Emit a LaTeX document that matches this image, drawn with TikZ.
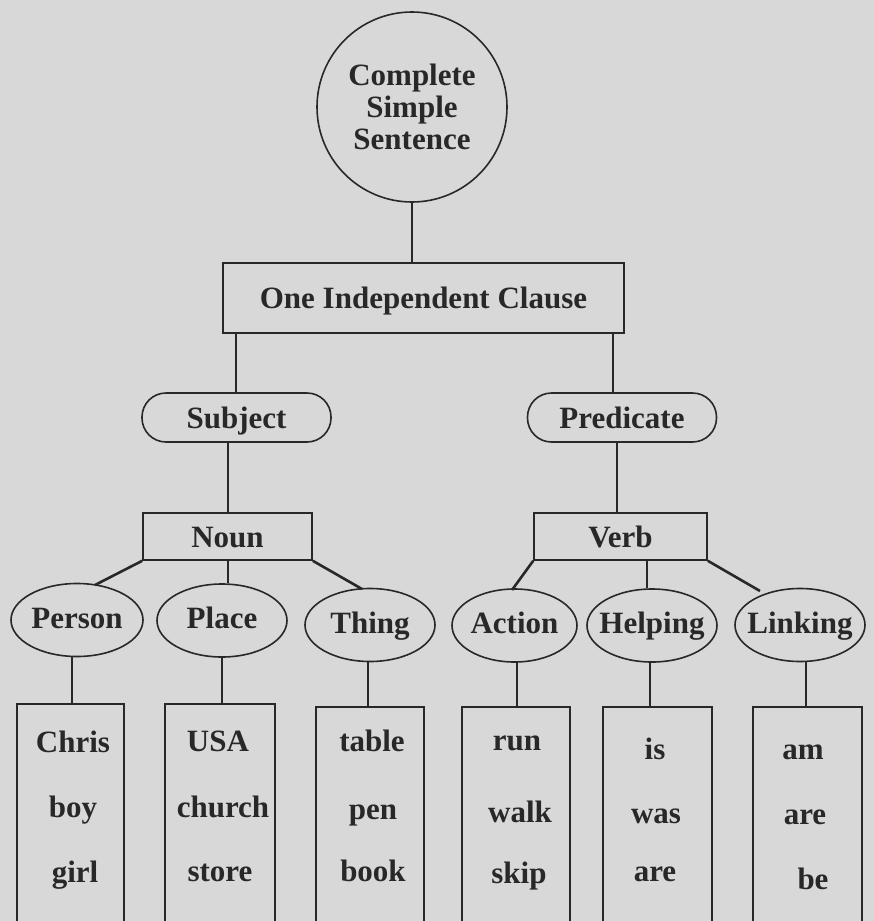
\documentclass[tikz,border=0pt]{standalone}
\usepackage{fontspec}
\setmainfont{Liberation Serif}
\usetikzlibrary{shapes.geometric}
\definecolor{bg}{RGB}{216,216,216}
\definecolor{ink}{RGB}{40,40,40}
\tikzset{
  lbl/.style={font=\fontsize{31}{33}\selectfont\bfseries, text=ink},
  shapeline/.style={draw=ink, line width=1.6pt},
  sqbox/.style={shapeline, rectangle, inner sep=0pt, lbl, text height=22pt, text depth=1pt},
  pill/.style={shapeline, rectangle, rounded corners=24pt, inner sep=0pt, minimum width=189pt, minimum height=49pt, lbl, text height=22pt, text depth=1pt},
  oval/.style={shapeline, ellipse, inner xsep=-16pt, inner ysep=-4pt, minimum height=73pt, lbl, text height=20pt, text depth=4pt},
  wordbox/.style={shapeline, rectangle, inner sep=0pt, minimum height=240pt, anchor=north},
  word/.style={lbl, inner sep=0pt, anchor=base},
  conn/.style={draw=ink, line width=1.7pt},
  slant/.style={draw=ink, line width=2.6pt}
}
\begin{document}
\begin{tikzpicture}[x=1pt,y=-1pt]
\useasboundingbox (0,0) rectangle (874,921);
\fill[bg] (0,0) rectangle (874,921);
\clip (0,0) rectangle (874,921);

% root
\node[shapeline, circle, minimum size=190pt, inner sep=0pt, lbl, align=center] (root) at (412,107)
  {Complete\\[-1pt]Simple\\[-1pt]Sentence};
\node[sqbox, minimum width=401pt, minimum height=70pt] (clause) at (423.5,298) {One Independent Clause};

\node[pill] (subj) at (236.5,417.5) {Subject};
\node[pill] (pred) at (622,417.5) {Predicate};

\node[sqbox, minimum width=169pt, minimum height=47pt] (noun) at (227.5,536.5) {Noun};
\node[sqbox, minimum width=173pt, minimum height=47pt] (verb) at (620.5,536.5) {Verb};

\node[oval, minimum width=132pt] (person) at (77,620) {Person};
\node[oval, minimum width=130pt] (place) at (222,620.5) {Place};
\node[oval, minimum width=130pt] (thing) at (370,625) {Thing};
\node[oval, minimum width=125pt] (action) at (514.5,625.5) {Action};
\node[oval, minimum width=130pt] (helping) at (652,625.5) {Helping};
\node[oval, minimum width=130pt] (linking) at (800,625) {Linking};

\node[wordbox, minimum width=107pt] (bperson) at (70.5,703) {};
\node[wordbox, minimum width=110pt] (bplace) at (220,703) {};
\node[wordbox, minimum width=108pt] (bthing) at (370,706) {};
\node[wordbox, minimum width=108pt] (baction) at (516,706) {};
\node[wordbox, minimum width=109pt] (bhelping) at (657.5,706) {};
\node[wordbox, minimum width=109pt] (blinking) at (807.5,706) {};

% words
\node[word] (w11) at (73,752) {Chris};
\node[word] (w12) at (73,817) {boy};
\node[word] (w13) at (75,882) {girl};
\node[word] (w21) at (218,751) {USA};
\node[word] (w22) at (223,817) {church};
\node[word] (w23) at (220,881) {store};
\node[word] (w31) at (372,751) {table};
\node[word] (w32) at (373,819) {pen};
\node[word] (w33) at (373,881) {book};
\node[word] (w41) at (517,750) {run};
\node[word] (w42) at (520,822) {walk};
\node[word] (w43) at (519,883) {skip};
\node[word] (w51) at (655,759) {is};
\node[word] (w52) at (656,823) {was};
\node[word] (w53) at (655,881) {are};
\node[word] (w61) at (803,759) {am};
\node[word] (w62) at (805,824) {are};
\node[word] (w63) at (813,889) {be};

% connectors
\draw[conn] (root.south) -- (root.south |- clause.north);
\draw[conn] ([xshift=-0.5pt]subj.north |- clause.south) -- ([xshift=-0.5pt]subj.north);
\draw[conn] ([xshift=-9pt]pred.north |- clause.south) -- ([xshift=-9pt]pred.north);
\draw[conn] ([xshift=0.5pt]noun.north |- subj.south) -- ([xshift=0.5pt]noun.north);
\draw[conn] ([xshift=-3.5pt]verb.north |- pred.south) -- ([xshift=-3.5pt]verb.north);

\coordinate (pa) at (95,585);
\coordinate (ta) at (362,589);
\coordinate (aa) at (512,590);
\coordinate (la) at (760,591);
\draw[slant] (noun.south west) -- (pa);
\draw[slant] (noun.south east) -- (ta);
\draw[conn] ([xshift=0.5pt]noun.south) -- ([xshift=0.5pt]noun.south |- place.north);
\draw[slant] (verb.south west) -- (aa);
\draw[conn] ([xshift=26.5pt]verb.south) -- ([xshift=26.5pt]verb.south |- helping.north);
\draw[slant] (verb.south east) -- (la);

\draw[conn] ([xshift=-5pt]person.south) -- ([xshift=-5pt]person.south |- bperson.north);
\draw[conn] (place.south) -- (place.south |- bplace.north);
\draw[conn] ([xshift=-2pt]thing.south) -- ([xshift=-2pt]thing.south |- bthing.north);
\draw[conn] ([xshift=2.5pt]action.south) -- ([xshift=2.5pt]action.south |- baction.north);
\draw[conn] ([xshift=-2pt]helping.south) -- ([xshift=-2pt]helping.south |- bhelping.north);
\draw[conn] ([xshift=6pt]linking.south) -- ([xshift=6pt]linking.south |- blinking.north);
\end{tikzpicture}
\end{document}
